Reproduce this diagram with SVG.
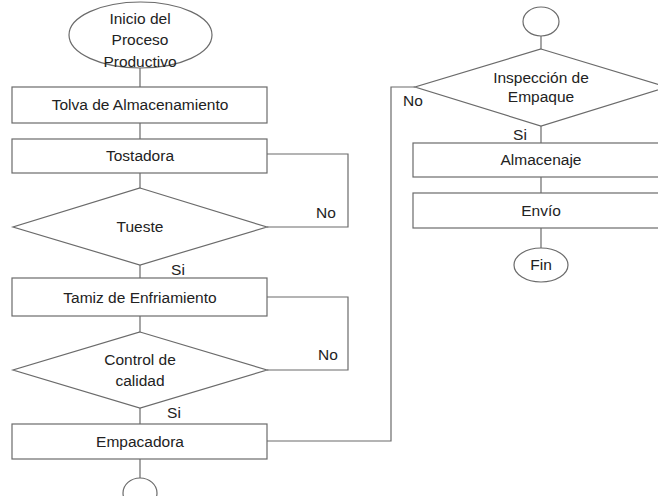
<svg xmlns="http://www.w3.org/2000/svg" width="658" height="496" viewBox="0 0 658 496">
<style>
.s{fill:#fff;stroke:#6b6b6b;stroke-width:1.2}
.c{fill:none;stroke:#6b6b6b;stroke-width:1.2}
text{font-family:"Liberation Sans",Arial,sans-serif;font-size:15.5px;fill:#222;text-anchor:middle}
</style>
<rect width="658" height="496" fill="#fff"/>
<g id="connectors">
<path class="c" d="M140,68V87M140,123V139M140,173V188M140,265V278M140,316V332M140,408V424M140,459V478"/>
<path class="c" d="M267,154H348V227H267"/>
<path class="c" d="M267,297H348V370H267"/>
<path class="c" d="M267,441H391V87H415"/>
<path class="c" d="M541,36V49M541,126V143M541,177V193M541,228V248"/>
</g>
<g id="inicio"><ellipse class="s" cx="140.5" cy="35" rx="71.5" ry="33"/><text x="140" y="24">Inicio del</text><text x="140" y="45">Proceso</text><text x="140" y="67">Productivo</text></g>
<g id="tolva"><rect class="s" x="12" y="87" width="255" height="36"/><text x="140" y="110">Tolva de Almacenamiento</text></g>
<g id="tostadora"><rect class="s" x="12" y="139" width="255" height="34"/><text x="140" y="161">Tostadora</text></g>
<g id="tueste"><polygon class="s" points="140,188 267,227 140,265 13,227"/><text x="140" y="232">Tueste</text></g>
<g id="tamiz"><rect class="s" x="12" y="278" width="255" height="38"/><text x="140" y="303">Tamiz de Enfriamiento</text></g>
<g id="control"><polygon class="s" points="140,332 267,370 140,408 13,370"/><text x="140" y="365">Control de</text><text x="140" y="386">calidad</text></g>
<g id="empacadora"><rect class="s" x="12" y="424" width="255" height="35"/><text x="140" y="447">Empacadora</text></g>
<g id="conector1"><ellipse class="s" cx="140" cy="493" rx="17" ry="15"/></g>
<g id="conector2"><ellipse class="s" cx="541" cy="21.5" rx="18" ry="14.5"/></g>
<g id="inspeccion"><polygon class="s" points="541,49 667,87 541,126 415,87"/><text x="541" y="83">Inspección de</text><text x="541" y="102">Empaque</text></g>
<g id="almacenaje"><rect class="s" x="413" y="143" width="256" height="34"/><text x="541" y="165">Almacenaje</text></g>
<g id="envio"><rect class="s" x="413" y="193" width="256" height="35"/><text x="541" y="216">Envío</text></g>
<g id="fin"><ellipse class="s" cx="541" cy="265" rx="27" ry="17"/><text x="541" y="270">Fin</text></g>
<g id="labels">
<text x="326" y="218">No</text>
<text x="178" y="275">Si</text>
<text x="328" y="360">No</text>
<text x="174" y="418">Si</text>
<text x="413" y="106">No</text>
<text x="520" y="140">Si</text>
</g>
</svg>
